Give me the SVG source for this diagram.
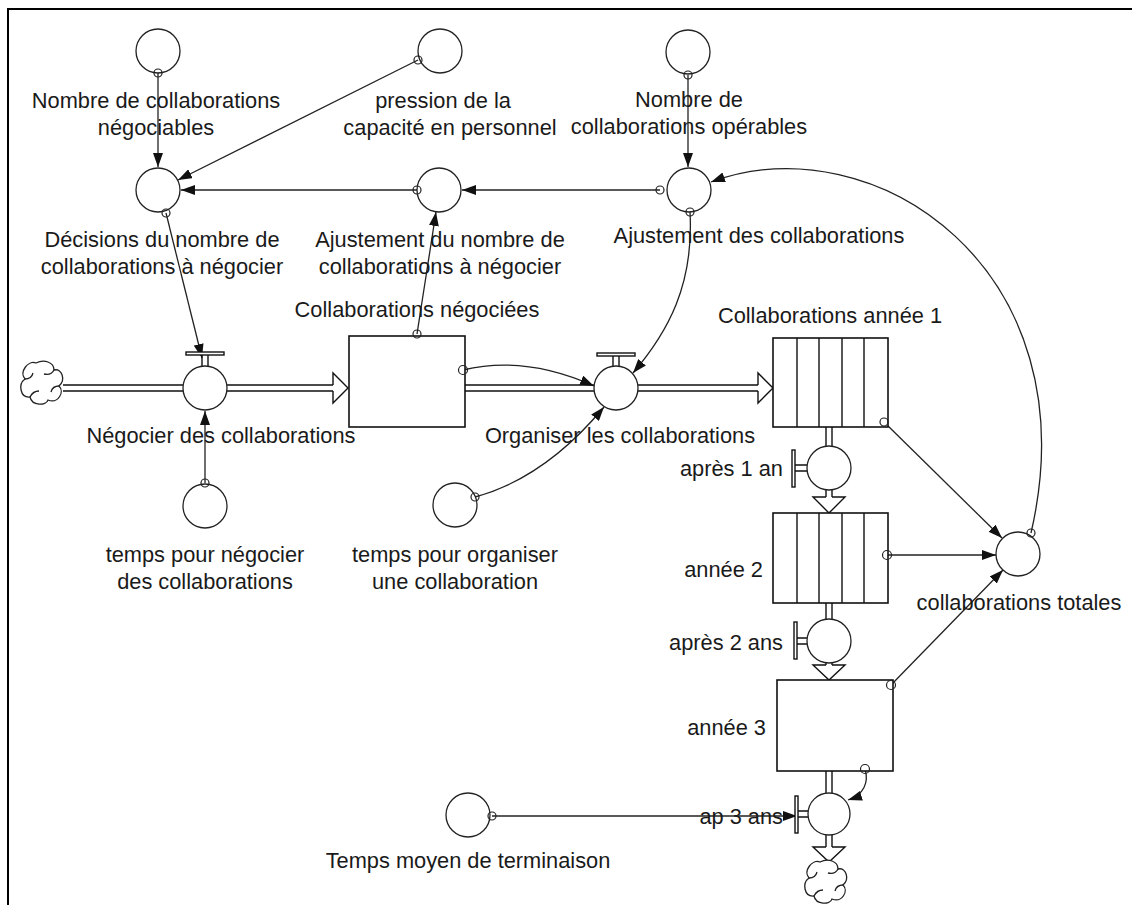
<svg xmlns="http://www.w3.org/2000/svg" xmlns:xlink="http://www.w3.org/1999/xlink" width="1132" height="905" viewBox="0 0 1132 905">
<style>
text{font-family:"Liberation Sans",Arial,sans-serif;font-size:21.8px;fill:#1a1a1a}
.m{text-anchor:middle}
.e{text-anchor:end}
.aux{fill:none;stroke:#222;stroke-width:1.3}
.dot{fill:none;stroke:#222;stroke-width:1.2}
.box{fill:#fff;stroke:#111;stroke-width:1.6}
.con{fill:none;stroke:#222;stroke-width:1.3;marker-end:url(#ah)}
.pipe{fill:none;stroke:#111;stroke-width:1.4}
.bar{fill:#fff;stroke:#111;stroke-width:1.4}
</style>
<defs>
<marker id="ah" markerUnits="userSpaceOnUse" viewBox="0 0 14 10" refX="14" refY="5" markerWidth="14" markerHeight="10" orient="auto">
<path d="M0,0 L14,5 L0,10 z" fill="#111"/>
</marker>
<g id="cloud" fill="#fff" stroke="#222" stroke-width="1.3">
<path d="M-6,-19 C2,-23 12,-20 12,-12 C20,-14 24,-2 17,4 C23,10 16,22 6,18 C4,24 -10,24 -12,15 C-22,16 -24,2 -17,-3 C-23,-10 -14,-22 -6,-19 Z"/>
<path fill="none" d="M12,-12 C10,-8 6,-7 2,-8 M17,4 C13,4 10,6 9,10 M-12,15 C-10,11 -7,9 -3,9 M-17,-3 C-13,-3 -10,-5 -9,-9"/>
</g>
</defs>
<rect width="1132" height="905" fill="#fff"/>
<path d="M7,9 H1132 M8,8 V905" stroke="#000" stroke-width="2" fill="none"/>

<g id="connectors">
<path class="con" d="M158,73 L158,167"/>
<path class="con" d="M418,60 L178,180"/>
<path class="con" d="M688,75 L688,167"/>
<path class="con" d="M417,190 L181,190"/>
<path class="con" d="M660,190 L462,190"/>
<path class="con" d="M417,334 L436,212"/>
<path class="con" d="M166,213 L202,358"/>
<path class="con" d="M205,483 L205,411"/>
<path class="con" d="M475,497 Q545,478 604,407"/>
<path class="con" d="M463,370 Q525,355 594,386"/>
<path class="con" d="M690,212 C694,285 668,332 633,373"/>
<path class="con" d="M1031,533 C1092,270 875,122 711,182"/>
<path class="con" d="M884,422 L1002,538"/>
<path class="con" d="M887,555 L996,555"/>
<path class="con" d="M891,685 L1003,570"/>
<path class="con" d="M865,769 C869,782 864,795 848,800"/>
<path class="con" d="M492,816 L797,816"/>
</g>

<g id="flow-negocier">
<use xlink:href="#cloud" x="42" y="382"/>
<path class="pipe" d="M63,385 H183 M63,391 H183 M227,385 H333 M227,391 H333"/>
<path class="pipe" d="M333,385 V373 L348,388 L333,403 V391"/>
<path class="pipe" d="M202,354 V366 M208,354 V366"/>
<rect class="bar" x="186" y="352" width="38" height="3"/>
<circle class="aux" cx="205" cy="388" r="22"/>
<text class="m" x="221" y="443">Négocier des collaborations</text>
</g>

<g id="stock-negociees">
<rect class="box" x="349" y="336" width="116" height="91"/>
<circle class="dot" cx="417" cy="334" r="4"/>
<circle class="dot" cx="463" cy="370" r="4.5"/>
<text class="m" x="417" y="317">Collaborations négociées</text>
</g>

<g id="flow-organiser">
<path class="pipe" d="M465,385 H594 M465,391 H594 M638,385 H758 M638,391 H758"/>
<path class="pipe" d="M758,385 V373 L773,388 L758,403 V391"/>
<path class="pipe" d="M613,356 V366 M619,356 V366"/>
<rect class="bar" x="597" y="353" width="38" height="3"/>
<circle class="aux" cx="616" cy="388" r="22"/>
<text class="m" x="620" y="443">Organiser les collaborations</text>
</g>

<g id="conveyor-annee1">
<rect class="box" x="773" y="338" width="115" height="89"/>
<path class="pipe" d="M797,338 V427 M819,338 V427 M842,338 V427 M864,338 V427"/>
<circle class="dot" cx="884" cy="422" r="4"/>
<text class="m" x="830" y="323">Collaborations année 1</text>
</g>

<g id="flow-apres1an">
<path class="pipe" d="M826,427 V446 M832,427 V446 M826,490 V497 M832,490 V497"/>
<path class="pipe" d="M826,497 H813 L829,513 L845,497 H832"/>
<path class="pipe" d="M795,465 H807 M795,471 H807"/>
<rect class="bar" x="792" y="450" width="3" height="37"/>
<circle class="aux" cx="829" cy="468" r="22"/>
<text class="e" x="783" y="476">après 1 an</text>
</g>

<g id="conveyor-annee2">
<rect class="box" x="773" y="513" width="115" height="90"/>
<path class="pipe" d="M797,513 V603 M819,513 V603 M842,513 V603 M864,513 V603"/>
<circle class="dot" cx="887" cy="555" r="4.5"/>
<text class="e" x="763" y="577">année 2</text>
</g>

<g id="flow-apres2ans">
<path class="pipe" d="M826,603 V619 M832,603 V619 M826,663 V665 M832,663 V665"/>
<path class="pipe" d="M826,665 H813 L829,680 L845,665 H832"/>
<path class="pipe" d="M797,638 H807 M797,644 H807"/>
<rect class="bar" x="794" y="622" width="3" height="37"/>
<circle class="aux" cx="829" cy="641" r="22"/>
<text class="e" x="783" y="650">après 2 ans</text>
</g>

<g id="stock-annee3">
<rect class="box" x="777" y="680" width="116" height="91"/>
<circle class="dot" cx="891" cy="685" r="4.5"/>
<circle class="dot" cx="865" cy="769" r="4.5"/>
<text class="e" x="766" y="735">année 3</text>
</g>

<g id="flow-ap3ans">
<path class="pipe" d="M826,771 V793 M832,771 V793 M826,835 V847 M832,835 V847"/>
<path class="pipe" d="M826,847 H813 L829,862 L845,847 H832"/>
<path class="pipe" d="M798,811 H808 M798,817 H808"/>
<rect class="bar" x="795" y="796" width="3" height="37"/>
<circle class="aux" cx="829" cy="814" r="21"/>
<use xlink:href="#cloud" x="826" y="881"/>
<text class="e" x="783" y="824">ap 3 ans</text>
</g>

<g id="aux-nombre-negociables">
<circle class="aux" cx="158" cy="51" r="22"/>
<circle class="dot" cx="158" cy="73" r="4"/>
<text class="m" x="156" y="108">Nombre de collaborations</text>
<text class="m" x="156" y="135">négociables</text>
</g>

<g id="aux-pression">
<circle class="aux" cx="440" cy="51" r="22"/>
<circle class="dot" cx="418" cy="60" r="4"/>
<text class="m" x="443" y="108">pression de la</text>
<text class="m" x="450" y="135">capacité en personnel</text>
</g>

<g id="aux-nombre-operables">
<circle class="aux" cx="688" cy="52" r="22"/>
<circle class="dot" cx="688" cy="75" r="4"/>
<text class="m" x="689" y="107">Nombre de</text>
<text class="m" x="689" y="134">collaborations opérables</text>
</g>

<g id="aux-decisions">
<circle class="aux" cx="158" cy="190" r="22"/>
<circle class="dot" cx="166" cy="213" r="4"/>
<text class="m" x="162" y="247">Décisions du nombre de</text>
<text class="m" x="162" y="274">collaborations à négocier</text>
</g>

<g id="aux-ajustement-nombre">
<circle class="aux" cx="439" cy="190" r="22"/>
<circle class="dot" cx="417" cy="190" r="4"/>
<text class="m" x="440" y="247">Ajustement du nombre de</text>
<text class="m" x="440" y="274">collaborations à négocier</text>
</g>

<g id="aux-ajustement-collab">
<circle class="aux" cx="689" cy="190" r="22"/>
<circle class="dot" cx="660" cy="190" r="4"/>
<circle class="dot" cx="690" cy="212" r="4"/>
<text class="m" x="759" y="243">Ajustement des collaborations</text>
</g>

<g id="aux-temps-negocier">
<circle class="aux" cx="205" cy="506" r="22"/>
<circle class="dot" cx="205" cy="483" r="4"/>
<text class="m" x="205" y="562">temps pour négocier</text>
<text class="m" x="205" y="589">des collaborations</text>
</g>

<g id="aux-temps-organiser">
<circle class="aux" cx="455" cy="505" r="22"/>
<circle class="dot" cx="475" cy="497" r="4"/>
<text class="m" x="455" y="562">temps pour organiser</text>
<text class="m" x="455" y="589">une collaboration</text>
</g>

<g id="aux-totales">
<circle class="aux" cx="1018" cy="554" r="22"/>
<circle class="dot" cx="1031" cy="533" r="4"/>
<text class="m" x="1019" y="610">collaborations totales</text>
</g>

<g id="aux-temps-moyen">
<circle class="aux" cx="468" cy="815" r="22"/>
<circle class="dot" cx="492" cy="816" r="4"/>
<text class="m" x="468" y="868">Temps moyen de terminaison</text>
</g>
</svg>
